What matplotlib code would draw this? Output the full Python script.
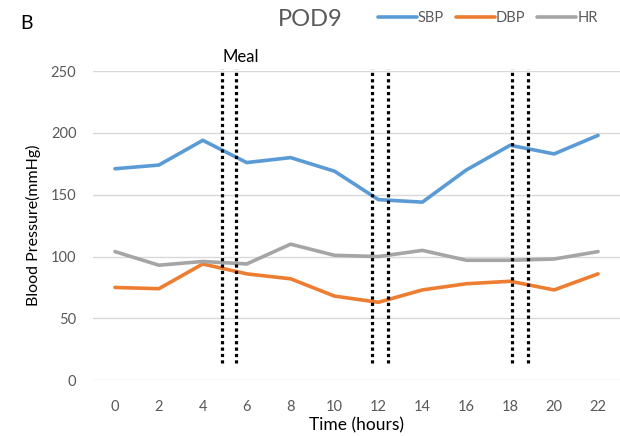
import matplotlib
matplotlib.use('Agg')
import matplotlib.pyplot as plt

hours = [0, 2, 4, 6, 8, 10, 12, 14, 16, 18, 20, 22]
sbp = [171, 174, 194, 176, 180, 169, 146, 144, 170, 190, 183, 198]
dbp = [75, 74, 94, 86, 82, 68, 63, 73, 78, 80, 73, 86]
hr = [104, 93, 96, 94, 110, 101, 100, 105, 97, 97, 98, 104]
meal_lines = [4.87, 5.51, 11.71, 12.44, 18.1, 18.8]

plt.rcParams['font.family'] = ['Lato', 'DejaVu Sans']

fig = plt.figure(figsize=(6.2, 4.36), dpi=100)
ax = fig.add_axes([0.15, 0.128, 0.85, 0.709])

ax.plot(hours, sbp, color='#5B9BD5', lw=2.6, label='SBP', solid_capstyle='round')
ax.plot(hours, dbp, color='#ED7D31', lw=2.6, label='DBP', solid_capstyle='round')
ax.plot(hours, hr, color='#A5A5A5', lw=2.6, label='HR', solid_capstyle='round')

for x in meal_lines:
    ax.plot([x, x], [14, 252], color='black', lw=2.3, linestyle=(0, (1, 1)),
            clip_on=False, zorder=5)
ax.text(5.75, 255, 'Meal', ha='center', va='bottom', fontsize=12, color='black')

ax.set_xlim(-1, 23)
ax.set_ylim(0, 250)
ax.set_xticks(hours)
ax.set_yticks(range(0, 251, 50))
ax.grid(axis='y', color='#D9D9D9', lw=1)
ax.set_axisbelow(True)
for s in ax.spines.values():
    s.set_visible(False)
ax.tick_params(length=0, labelsize=10.5, colors='#595959', pad=14)
ax.tick_params(axis='y', pad=12)

ax.set_xlabel('Time (hours)', fontsize=12.5, labelpad=3)
ax.set_ylabel('Blood Pressure(mmHg)', fontsize=11.5, labelpad=7)

fig.text(0.5, 0.955, 'POD9', ha='center', va='center', fontsize=17, color='#595959')
fig.text(0.032, 0.945, 'B', ha='left', va='center', fontsize=14, color='black')

fig.legend(loc='center right', bbox_to_anchor=(0.985, 0.958), ncol=3, frameon=False,
           fontsize=10.5, handlelength=2.7, handletextpad=0.05, columnspacing=0.8,
           labelcolor='#595959')

fig.savefig('out.png', dpi=100)
